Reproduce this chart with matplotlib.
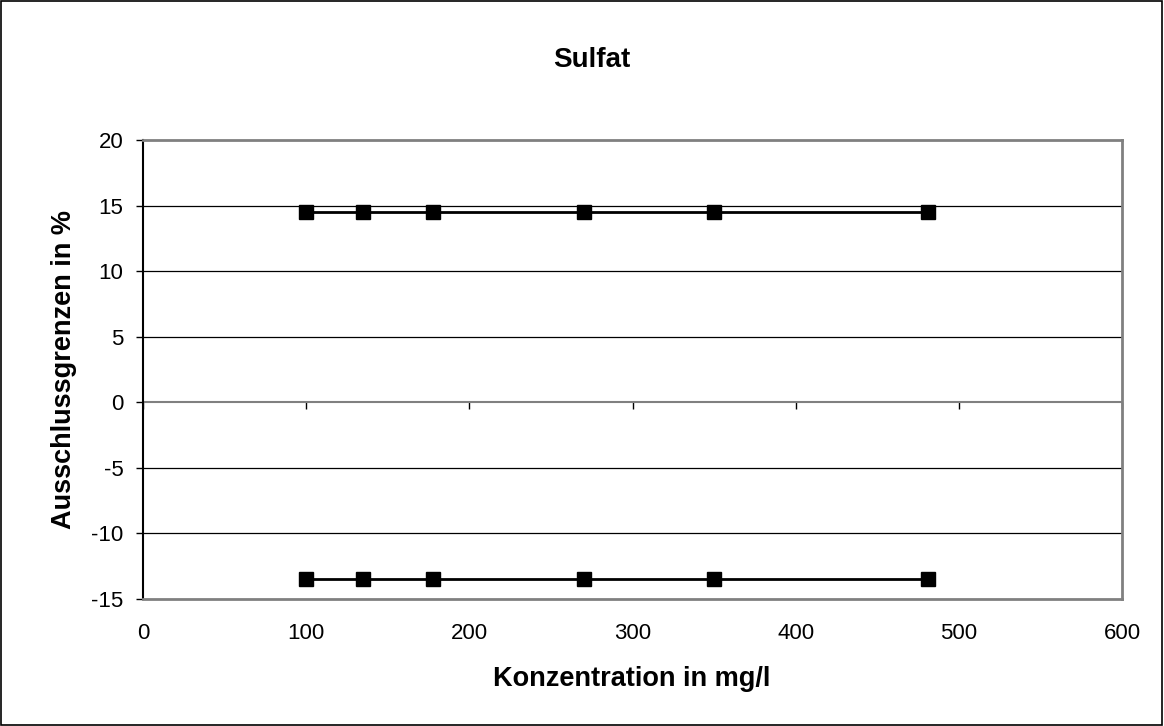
import numpy as np
import matplotlib.pyplot as plt
from matplotlib.patches import Rectangle

plt.rcParams['font.family'] = ['Liberation Sans', 'DejaVu Sans']
plt.rcParams['axes.unicode_minus'] = False

# concentration (mg/l) and exclusion limits (%)
konz = [100, 135, 178, 270, 350, 481]
upper = [14.5, 14.5, 14.5, 14.5, 14.5, 14.5]
lower = [-13.5, -13.5, -13.5, -13.5, -13.5, -13.5]

x_ticks = [0, 100, 200, 300, 400, 500, 600]
y_ticks = [-15, -10, -5, 0, 5, 10, 15, 20]

fig = plt.figure(figsize=(11.64, 7.26), dpi=100)
fig.patches.append(Rectangle((0.0005, 0.001), 0.998, 0.998, transform=fig.transFigure,
                             fill=False, edgecolor='black', linewidth=1.2))

ax = fig.add_axes([0.1229, 0.1749, 0.8410, 0.6323])
ax.set_xlim(0, 600)
ax.set_ylim(-15, 20)

# gridlines
for yv in y_ticks[1:-1]:
    if yv != 0:
        ax.axhline(yv, color='black', linewidth=0.9, zorder=1)
ax.axhline(0, color='#808080', linewidth=1.5, zorder=1)

ax.plot(konz, upper, color='black', linewidth=2, marker='s', markersize=10, zorder=3)
ax.plot(konz, lower, color='black', linewidth=2, marker='s', markersize=10, zorder=3)

for s in ['top', 'right', 'bottom']:
    ax.spines[s].set_color('#808080')
    ax.spines[s].set_linewidth(2)
ax.spines['left'].set_color('black')
ax.spines['left'].set_linewidth(1.5)

ax.set_yticks(y_ticks)
ax.set_xticks(x_ticks)
ax.tick_params(axis='y', direction='out', length=5, width=1, labelsize=16, pad=9)
ax.tick_params(axis='x', length=0, labelsize=16, pad=17)

# x-axis ticks sit on the zero line
sec = ax.secondary_xaxis(15 / 35)
sec.set_xticks(x_ticks)
sec.tick_params(axis='x', direction='out', length=5, width=1, labelbottom=False, labeltop=False)
sec.spines['bottom'].set_visible(False)
sec.spines['top'].set_visible(False)

ax.set_xlabel('Konzentration in mg/l', fontsize=19.5, fontweight='bold', va='baseline')
ax.xaxis.set_label_coords(0.499, -0.1895)
ax.set_ylabel('Ausschlussgrenzen in %', fontsize=19.5, fontweight='bold', va='center')
ax.yaxis.set_label_coords(-0.0807, 0.5)
fig.text(0.508, 0.9077, 'Sulfat', ha='center', va='baseline', fontsize=20, fontweight='bold')

fig.savefig('out.png', dpi=100)
